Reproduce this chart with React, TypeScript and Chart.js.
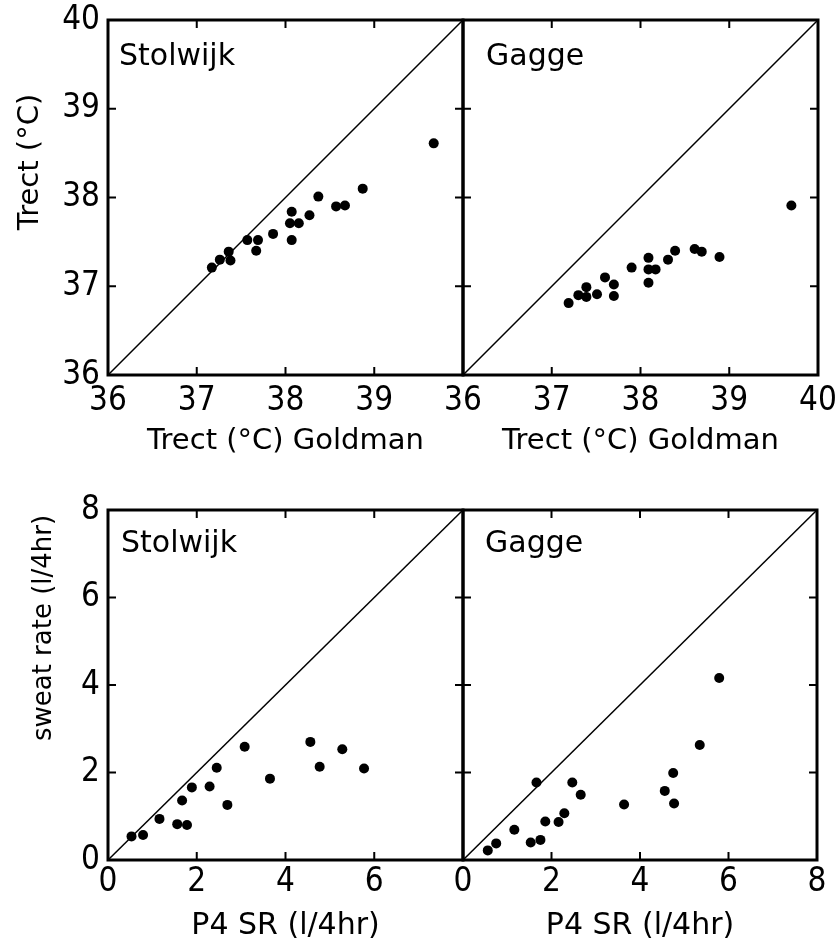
import React, { useEffect, useRef } from 'react';
import { Chart, registerables } from 'chart.js';

Chart.register(...registerables);

// ---- data ----
const tempTicks = [36, 37, 38, 39, 40];
const sweatTicks = [0, 2, 4, 6, 8];
const identityTemp = [36, 40];
const identitySweat = [0, 8];

const trectStolwijkX = [37.17, 37.26, 37.36, 37.38, 37.57, 37.69, 37.67, 37.86, 38.07, 38.05, 38.15, 38.07, 38.27, 38.37, 38.57, 38.67, 38.87, 39.67];
const trectStolwijkY = [37.21, 37.3, 37.39, 37.29, 37.52, 37.52, 37.4, 37.59, 37.84, 37.71, 37.71, 37.52, 37.8, 38.01, 37.9, 37.91, 38.1, 38.61];

const trectGaggeX = [37.19, 37.3, 37.39, 37.39, 37.51, 37.6, 37.7, 37.7, 37.9, 38.09, 38.09, 38.17, 38.09, 38.31, 38.39, 38.61, 38.69, 38.89, 39.7];
const trectGaggeY = [36.81, 36.9, 36.99, 36.88, 36.91, 37.1, 37.02, 36.89, 37.21, 37.32, 37.19, 37.19, 37.04, 37.3, 37.4, 37.42, 37.39, 37.33, 37.91];

const sweatStolwijkX = [0.53, 0.79, 1.16, 1.56, 1.78, 1.67, 1.89, 2.29, 2.45, 2.69, 3.08, 3.65, 4.56, 4.77, 5.28, 5.77];
const sweatStolwijkY = [0.54, 0.57, 0.94, 0.82, 0.8, 1.36, 1.66, 1.68, 2.11, 1.26, 2.59, 1.86, 2.7, 2.13, 2.53, 2.09];

const sweatGaggeX = [0.56, 0.75, 1.16, 1.53, 1.75, 1.66, 1.86, 2.16, 2.29, 2.47, 2.66, 3.64, 4.56, 4.75, 4.77, 5.35, 5.79];
const sweatGaggeY = [0.22, 0.38, 0.69, 0.4, 0.46, 1.77, 0.88, 0.87, 1.07, 1.77, 1.49, 1.27, 1.58, 1.99, 1.29, 2.63, 4.16];

const modelLabels = ['Stolwijk', 'Gagge'];
const tempXTitle = 'Trect (°C) Goldman';
const tempYTitle = 'Trect (°C)';
const sweatXTitle = 'P4 SR (l/4hr)';
const sweatYTitle = 'sweat rate (l/4hr)';

// ---- styling ----
const TEXT_FONT = "'DejaVu Sans', sans-serif";
const TICK_FONT = "'Liberation Sans Narrow', 'DejaVu Sans Condensed', sans-serif";

const framePlugin = {
  id: 'frameTicks',
  afterDatasetsDraw(chart: any, _args: any, opts: any) {
    const { ctx, chartArea: a, scales } = chart;
    const xs = scales.x;
    const ys = scales.y;
    ctx.save();
    ctx.strokeStyle = '#000';
    ctx.fillStyle = '#000';
    ctx.lineWidth = 2;
    ctx.beginPath();
    const tl = 8;
    (opts.xTicks as number[]).forEach((v) => {
      if (v === xs.min || v === xs.max) return;
      const x = xs.getPixelForValue(v);
      ctx.moveTo(x, a.top);
      ctx.lineTo(x, a.top + tl);
      ctx.moveTo(x, a.bottom);
      ctx.lineTo(x, a.bottom - tl);
    });
    (opts.yTicks as number[]).forEach((v) => {
      if (v === ys.min || v === ys.max) return;
      const y = ys.getPixelForValue(v);
      ctx.moveTo(a.left, y);
      ctx.lineTo(a.left + tl, y);
      ctx.moveTo(a.right, y);
      ctx.lineTo(a.right - tl, y);
    });
    ctx.stroke();
    ctx.lineWidth = 3;
    ctx.strokeRect(a.left, a.top, a.right - a.left, a.bottom - a.top);

    ctx.font = `30px ${TEXT_FONT}`;
    ctx.textAlign = 'left';
    ctx.textBaseline = 'alphabetic';
    ctx.fillText(opts.label, a.left + opts.labelDx, a.top + opts.labelDy);

    if (opts.yTitle) {
      ctx.translate(opts.yTitleX, a.top + (a.bottom - a.top) * opts.yTitleFrac);
      ctx.rotate(-Math.PI / 2);
      ctx.textAlign = 'center';
      ctx.textBaseline = 'middle';
      ctx.font = `${opts.yTitleSize}px ${TEXT_FONT}`;
      ctx.fillText(opts.yTitle, 0, 0);
    }
    ctx.restore();
  },
};

type PanelSpec = {
  left: number;
  top: number;
  width: number;
  height: number;
  padding: { left: number; top: number; right: number; bottom: number };
  xs: number[];
  ys: number[];
  identity: number[];
  ticks: number[];
  showY: boolean;
  hideLastX: boolean;
  yAxisWidth: number;
  xAxisHeight: number;
  xTickPad: number;
  xTitle: string;
  xTitleSize: number;
  xTitlePad: number;
  label: string;
  labelDx: number;
  labelDy: number;
  yTitle?: string;
  yTitleX?: number;
  yTitleFrac?: number;
  yTitleSize?: number;
};

function buildConfig(p: PanelSpec): any {
  const min = p.ticks[0];
  const max = p.ticks[p.ticks.length - 1];
  const setTicks = (s: any) => {
    s.ticks = p.ticks.map((v) => ({ value: v }));
  };
  return {
    type: 'scatter',
    data: {
      datasets: [
        {
          data: p.identity.map((v) => ({ x: v, y: v })),
          showLine: true,
          borderColor: '#000',
          borderWidth: 1.5,
          pointRadius: 0,
          fill: false,
        },
        {
          data: p.xs.map((x, i) => ({ x, y: p.ys[i] })),
          showLine: false,
          pointRadius: 5,
          pointBackgroundColor: '#000',
          pointBorderWidth: 0,
          backgroundColor: '#000',
        },
      ],
    },
    options: {
      responsive: false,
      animation: false,
      devicePixelRatio: 1,
      events: [],
      layout: { padding: p.padding },
      plugins: {
        legend: { display: false },
        tooltip: { enabled: false },
        frameTicks: {
          xTicks: p.ticks,
          yTicks: p.ticks,
          label: p.label,
          labelDx: p.labelDx,
          labelDy: p.labelDy,
          yTitle: p.yTitle,
          yTitleX: p.yTitleX,
          yTitleFrac: p.yTitleFrac,
          yTitleSize: p.yTitleSize,
        },
      },
      scales: {
        x: {
          type: 'linear',
          min,
          max,
          afterBuildTicks: setTicks,
          grid: { display: false, drawTicks: false },
          border: { display: false },
          ticks: {
            color: '#000',
            padding: p.xTickPad,
            maxRotation: 0,
            autoSkip: false,
            font: { family: TICK_FONT, size: 33 },
            callback: (v: number) => (p.hideLastX && v === max ? '' : String(v)),
          },
          title: {
            display: true,
            text: p.xTitle,
            color: '#000',
            font: { family: TEXT_FONT, size: p.xTitleSize },
            padding: { top: 0, bottom: p.xTitlePad },
          },
          afterFit: (s: any) => {
            s.height = p.xAxisHeight;
            s.paddingLeft = 0;
            s.paddingRight = 0;
          },
        },
        y: {
          type: 'linear',
          display: p.showY,
          min,
          max,
          afterBuildTicks: setTicks,
          grid: { display: false, drawTicks: false },
          border: { display: false },
          ticks: {
            color: '#000',
            padding: 8,
            autoSkip: false,
            font: { family: TICK_FONT, size: 33 },
          },
          afterFit: (s: any) => {
            s.width = p.yAxisWidth;
            s.paddingTop = 0;
            s.paddingBottom = 0;
          },
        },
      },
    },
    plugins: [framePlugin],
  };
}

function Panel({ spec }: { spec: PanelSpec }) {
  const ref = useRef<HTMLCanvasElement>(null);
  useEffect(() => {
    const chart = new Chart(ref.current as HTMLCanvasElement, buildConfig(spec));
    return () => chart.destroy();
  }, []);
  return (
    <div style={{ position: 'absolute', left: spec.left, top: spec.top, width: spec.width, height: spec.height }}>
      <canvas
        ref={ref}
        width={spec.width}
        height={spec.height}
        style={{ display: 'block', width: spec.width, height: spec.height }}
      />
    </div>
  );
}

const panels: PanelSpec[] = [
  {
    left: 0, top: 0, width: 480, height: 460,
    padding: { left: 0, top: 20, right: 17, bottom: 0 },
    xs: trectStolwijkX, ys: trectStolwijkY, identity: identityTemp, ticks: tempTicks,
    showY: true, hideLastX: true, yAxisWidth: 108, xAxisHeight: 85, xTickPad: 7,
    xTitle: tempXTitle, xTitleSize: 29, xTitlePad: 1,
    label: modelLabels[0], labelDx: 11, labelDy: 45,
    yTitle: tempYTitle, yTitleX: 30, yTitleFrac: 0.4, yTitleSize: 29,
  },
  {
    left: 440, top: 0, width: 396, height: 460,
    padding: { left: 23, top: 20, right: 18, bottom: 0 },
    xs: trectGaggeX, ys: trectGaggeY, identity: identityTemp, ticks: tempTicks,
    showY: false, hideLastX: false, yAxisWidth: 0, xAxisHeight: 85, xTickPad: 7,
    xTitle: tempXTitle, xTitleSize: 29, xTitlePad: 1,
    label: modelLabels[1], labelDx: 23, labelDy: 45,
  },
  {
    left: 0, top: 470, width: 480, height: 472,
    padding: { left: 0, top: 40, right: 17, bottom: 0 },
    xs: sweatStolwijkX, ys: sweatStolwijkY, identity: identitySweat, ticks: sweatTicks,
    showY: true, hideLastX: true, yAxisWidth: 108, xAxisHeight: 82, xTickPad: 3,
    xTitle: sweatXTitle, xTitleSize: 30, xTitlePad: -2,
    label: modelLabels[0], labelDx: 13, labelDy: 42,
    yTitle: sweatYTitle, yTitleX: 44, yTitleFrac: 0.337, yTitleSize: 26,
  },
  {
    left: 440, top: 470, width: 396, height: 472,
    padding: { left: 23, top: 40, right: 19, bottom: 0 },
    xs: sweatGaggeX, ys: sweatGaggeY, identity: identitySweat, ticks: sweatTicks,
    showY: false, hideLastX: false, yAxisWidth: 0, xAxisHeight: 82, xTickPad: 3,
    xTitle: sweatXTitle, xTitleSize: 30, xTitlePad: -2,
    label: modelLabels[1], labelDx: 22, labelDy: 42,
  },
];

export default function App() {
  return (
    <div style={{ position: 'absolute', left: 0, top: 0, width: 836, height: 942, background: '#fff', overflow: 'hidden' }}>
      {panels.map((p, i) => (
        <Panel key={i} spec={p} />
      ))}
    </div>
  );
}
